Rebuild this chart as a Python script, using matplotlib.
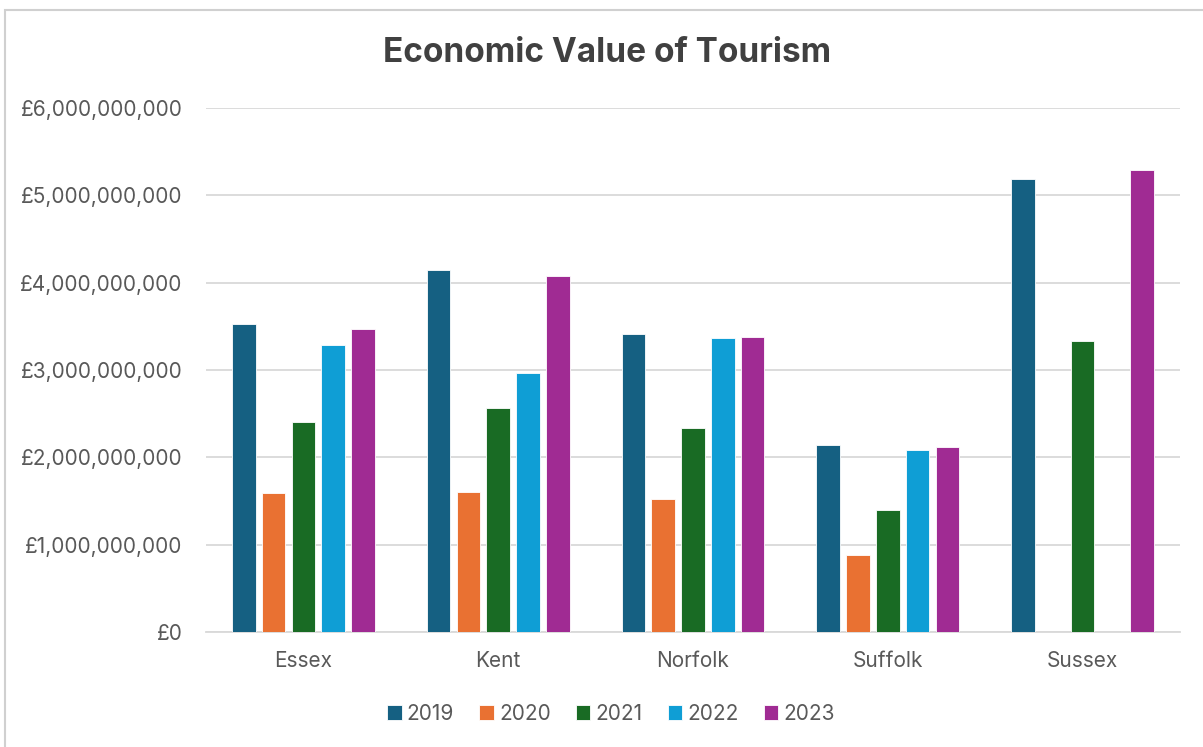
import matplotlib
matplotlib.use("Agg")
import matplotlib.pyplot as plt
import numpy as np
from matplotlib.patches import Rectangle
from matplotlib.ticker import FuncFormatter

plt.rcParams['font.family'] = ['Inter', 'DejaVu Sans']

regions = ["Essex", "Kent", "Norfolk", "Suffolk", "Sussex"]
years = ["2019", "2020", "2021", "2022", "2023"]
values = {
    "2019": [3.53e9, 4.145e9, 3.415e9, 2.14e9, 5.19e9],
    "2020": [1.59e9, 1.605e9, 1.52e9, 0.88e9, np.nan],
    "2021": [2.40e9, 2.57e9, 2.335e9, 1.395e9, 3.33e9],
    "2022": [3.285e9, 2.96e9, 3.365e9, 2.085e9, np.nan],
    "2023": [3.465e9, 4.075e9, 3.375e9, 2.12e9, 5.29e9],
}
colors = ["#156082", "#E97132", "#196B24", "#0F9ED5", "#A02B93"]

W, H = 1203, 747
fig = plt.figure(figsize=(W / 100, H / 100), dpi=100)
fig.patches.append(Rectangle((5 / W, -0.1), 1.2, 1 - 10 / H + 0.1,
                             transform=fig.transFigure, fill=False,
                             edgecolor="#d0d0d0", linewidth=1.5))

ax = fig.add_axes([206 / W, 1 - 632 / H, (1180 - 206) / W, (632 - 108) / H])

x = np.arange(len(regions))
pitch = 0.153
width = 0.122
for i, (yr, col) in enumerate(zip(years, colors)):
    ax.bar(x + (i - 2) * pitch, values[yr], width=width, color=col,
           edgecolor="white", linewidth=0.6, label=yr, zorder=3)

ax.set_xlim(-0.5, len(regions) - 0.5)
ax.set_ylim(0, 6e9)
ax.set_yticks(np.arange(0, 6.01e9, 1e9))
ax.yaxis.set_major_formatter(FuncFormatter(lambda v, p: "£{:,.0f}".format(v)))
ax.set_xticks(x)
ax.set_xticklabels(regions)
ax.grid(axis="y", color="#d9d9d9", linewidth=1.3, zorder=0)
for s in ["top", "right", "left"]:
    ax.spines[s].set_visible(False)
ax.spines["bottom"].set_color("#d9d9d9")
ax.spines["bottom"].set_linewidth(1.3)
ax.tick_params(axis="both", length=0, labelsize=15, labelcolor="#595959")
ax.tick_params(axis="y", pad=17)
ax.tick_params(axis="x", pad=14)

fig.text(607 / W, 1 - 53 / H, "Economic Value of Tourism", ha="center",
         va="center", fontsize=24, fontweight="bold", color="#404040")

leg = fig.legend(loc="center", bbox_to_anchor=(611 / W, 1 - 714 / H),
                 ncol=5, frameon=False, fontsize=15, handlelength=0.7,
                 handleheight=0.7, handletextpad=0.25, columnspacing=1.2)
for t in leg.get_texts():
    t.set_color("#595959")

fig.savefig("out.png", dpi=100)
